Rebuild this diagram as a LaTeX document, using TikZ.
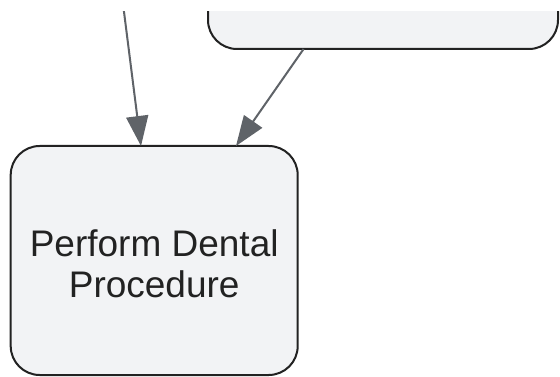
\documentclass[tikz,border=0pt]{standalone}
\usepackage{fontspec}
\setmainfont{Liberation Sans}
\usetikzlibrary{arrows.meta,calc}
\definecolor{boxfill}{HTML}{F2F3F5}
\definecolor{boxline}{HTML}{222222}
\definecolor{arrowc}{HTML}{5F6368}
\definecolor{textc}{HTML}{222222}
\begin{document}
\begin{tikzpicture}[x=1pt,y=-1pt,
  procbox/.style={draw=boxline, fill=boxfill, line width=2pt, rounded corners=29pt,
    inner sep=0pt, outer sep=0pt},
  boxtext/.style={text=textc, align=center, inner sep=0pt, font=\fontsize{37}{41}\selectfont},
  flow/.style={draw=arrowc, line width=2pt, -{Triangle[length=30pt,width=22pt]}}]
\useasboundingbox (0,0) rectangle (560,377);
\fill[white] (0,0) rectangle (560,377);
\begin{scope}
\clip (0,12) rectangle (560,377);
\node[procbox, minimum width=350pt, minimum height=100pt] (prev) at (383,-1) {};
\node[procbox, minimum width=287pt, minimum height=229pt] (perf) at (154.2,260.5) {};
\node[boxtext] (perftext) at ($(perf.center)+(0,3)$) {Perform Dental\\Procedure};
\coordinate (a1s) at (122.5,0);
\draw[flow] (a1s) -- ($(perf.north west)+(130.3,0)$);
\draw[flow] ($(prev.south west)+(95.6,0)$) -- ($(perf.north west)+(225.3,0)$);
\end{scope}
\end{tikzpicture}
\end{document}
